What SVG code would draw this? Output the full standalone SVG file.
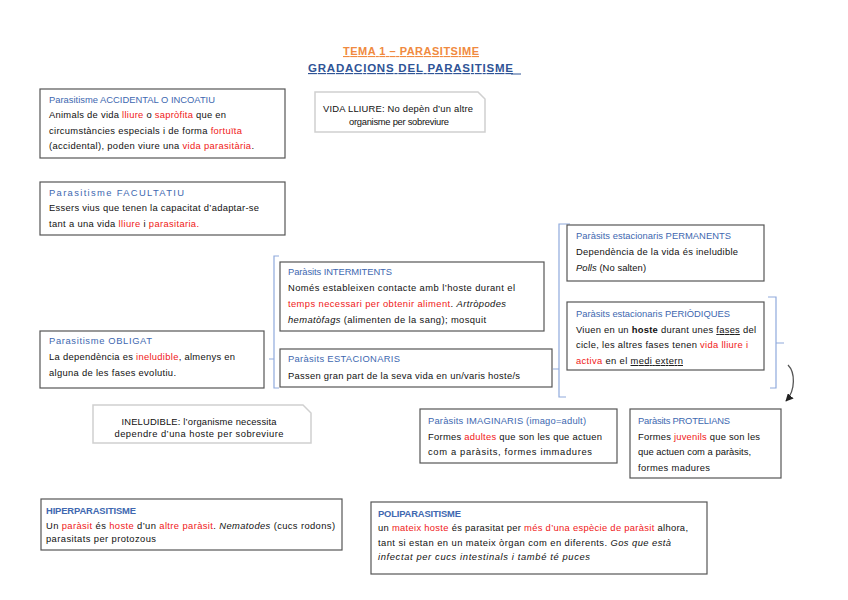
<svg xmlns="http://www.w3.org/2000/svg" width="848" height="600" viewBox="0 0 848 600">
<defs>
<style>
text{font-family:"Liberation Sans",Arial,sans-serif;font-size:9.4px;fill:#111}
.h{fill:#4068B0}
.r{fill:#F01818}
.i{font-style:italic}
.u{text-decoration:underline}
.b{font-weight:bold}
.box{fill:#fff;stroke:#555;stroke-width:1.2}
.lbox{fill:#fff;stroke:#d0d0d0;stroke-width:1.5}
.br{fill:none;stroke:#8FAADC;stroke-width:1.2}
.c{text-anchor:middle}
</style>
<marker id="ah" viewBox="0 0 10 10" refX="9" refY="5" markerWidth="6" markerHeight="6" orient="auto"><path d="M0,0L10,5L0,10z" fill="#222"/></marker>
</defs>
<rect width="848" height="600" fill="#fff"/>
<g id="title">
<text x="343" y="55" textLength="136" lengthAdjust="spacing" style="font-size:11px;font-weight:bold;fill:#F08A40;text-decoration:underline">TEMA 1 – PARASITSIME</text>
<text x="308" y="72" textLength="205" lengthAdjust="spacing" style="font-size:11.5px;font-weight:bold;fill:#2F5496;text-decoration:underline">GRADACIONS DEL PARASITISME</text>
<line x1="511" y1="74" x2="521" y2="74" stroke="#2F5496" stroke-width="1"/>
</g>
<g id="connectors">
<path class="br" d="M279,256H274V388H279M274,359H269"/>
<path class="br" d="M570,224H559V397H566M559,369H553"/>
<path class="br" d="M768,297H776V388H770M776,343H784"/>
<path d="M788,365C795,372 796,390 786,401" fill="none" stroke="#555" stroke-width="1.3" marker-end="url(#ah)"/>
</g>
<g id="accidental">
<rect class="box" x="40" y="89" width="245" height="69"/>
<text x="49" y="103" class="h" textLength="166" lengthAdjust="spacing">Parasitisme ACCIDENTAL O INCOATIU</text>
<text x="49" y="118" textLength="177" lengthAdjust="spacing">Animals de vida <tspan class="r">lliure</tspan> o <tspan class="r">sapròfita</tspan> que en</text>
<text x="49" y="134" textLength="193" lengthAdjust="spacing">circumstàncies especials i de forma <tspan class="r">fortuïta</tspan></text>
<text x="49" y="149" textLength="205" lengthAdjust="spacing">(accidental), poden viure una <tspan class="r">vida parasitària</tspan>.</text>
</g>
<g id="vidalliure">
<path class="lbox" d="M315,92H478L485,99V132H315Z"/>
<text x="398" y="112" class="c" textLength="150" lengthAdjust="spacing">VIDA LLIURE: No depèn d’un altre</text>
<text x="399" y="125" class="c" textLength="100" lengthAdjust="spacing">organisme per sobreviure</text>
</g>
<g id="facultatiu">
<rect class="box" x="40" y="182" width="245" height="53"/>
<text x="49" y="196" class="h" textLength="135" lengthAdjust="spacing">Parasitisme FACULTATIU</text>
<text x="49" y="211" textLength="210" lengthAdjust="spacing">Essers vius que tenen la capacitat d’adaptar-se</text>
<text x="49" y="227" textLength="150" lengthAdjust="spacing">tant a una vida <tspan class="r">lliure</tspan> i <tspan class="r">parasitaria.</tspan></text>
</g>
<g id="intermitents">
<rect class="box" x="280" y="262" width="264" height="69"/>
<text x="288" y="275" class="h" textLength="104" lengthAdjust="spacing">Paràsits INTERMITENTS</text>
<text x="288" y="291" textLength="227" lengthAdjust="spacing">Només estableixen contacte amb l’hoste durant el</text>
<text x="288" y="307" textLength="218" lengthAdjust="spacing"><tspan class="r">temps necessari per obtenir aliment</tspan>. <tspan class="i">Artròpodes</tspan></text>
<text x="288" y="323" textLength="198" lengthAdjust="spacing"><tspan class="i">hematòfags</tspan> (alimenten de la sang); mosquit</text>
</g>
<g id="estacionaris">
<rect class="box" x="280" y="349" width="272" height="38"/>
<text x="288" y="362" class="h" textLength="112" lengthAdjust="spacing">Paràsits ESTACIONARIS</text>
<text x="288" y="379" textLength="232" lengthAdjust="spacing">Passen gran part de la seva vida en un/varis hoste/s</text>
</g>
<g id="obligat">
<rect class="box" x="40" y="331" width="224" height="57"/>
<text x="49" y="344" class="h" textLength="103" lengthAdjust="spacing">Parasitisme OBLIGAT</text>
<text x="49" y="360" textLength="186" lengthAdjust="spacing">La dependència es <tspan class="r">ineludible</tspan>, almenys en</text>
<text x="49" y="376" textLength="127" lengthAdjust="spacing">alguna de les fases evolutiu.</text>
</g>
<g id="permanents">
<rect class="box" x="567" y="225" width="197" height="56"/>
<text x="576" y="239" class="h" textLength="155" lengthAdjust="spacing">Paràsits estacionaris PERMANENTS</text>
<text x="576" y="255" textLength="162" lengthAdjust="spacing">Dependència de la vida és ineludible</text>
<text x="576" y="271" textLength="70" lengthAdjust="spacing"><tspan class="i">Polls</tspan> (No salten)</text>
</g>
<g id="periodiques">
<rect class="box" x="567" y="302" width="197" height="68"/>
<text x="576" y="317" class="h" textLength="154" lengthAdjust="spacing">Paràsits estacionaris PERIÒDIQUES</text>
<text x="576" y="333" textLength="180" lengthAdjust="spacing">Viuen en un <tspan class="b">hoste</tspan> durant unes <tspan class="u">fases</tspan> del</text>
<text x="576" y="348" textLength="172" lengthAdjust="spacing">cicle, les altres fases tenen <tspan class="r">vida lliure i</tspan></text>
<text x="576" y="364" textLength="107" lengthAdjust="spacing"><tspan class="r">activa</tspan> en el <tspan class="u">medi extern</tspan></text>
</g>
<g id="ineludible">
<path class="lbox" d="M93,405H303L311,413V443H93Z"/>
<text x="199" y="425" class="c" textLength="155" lengthAdjust="spacing">INELUDIBLE: l’organisme necessita</text>
<text x="199" y="437" class="c" textLength="169" lengthAdjust="spacing">dependre d’una hoste per sobreviure</text>
</g>
<g id="imaginaris">
<rect class="box" x="420" y="409" width="197" height="54"/>
<text x="428" y="424" class="h" textLength="158" lengthAdjust="spacing">Paràsits IMAGINARIS (imago=adult)</text>
<text x="428" y="440" textLength="174" lengthAdjust="spacing">Formes <tspan class="r">adultes</tspan> que son les que actuen</text>
<text x="428" y="455" textLength="164" lengthAdjust="spacing">com a paràsits, formes immadures</text>
</g>
<g id="protelians">
<rect class="box" x="630" y="409" width="151" height="69"/>
<text x="638" y="424" class="h" textLength="92" lengthAdjust="spacing">Paràsits PROTELIANS</text>
<text x="638" y="440" textLength="122" lengthAdjust="spacing">Formes <tspan class="r">juvenils</tspan> que son les</text>
<text x="638" y="455" textLength="113" lengthAdjust="spacing">que actuen com a paràsits,</text>
<text x="638" y="471" textLength="72" lengthAdjust="spacing">formes madures</text>
</g>
<g id="hiperparasitisme">
<rect class="box" x="41" y="499" width="301" height="51"/>
<text x="46" y="514" class="h b" textLength="90" lengthAdjust="spacing">HIPERPARASITISME</text>
<text x="46" y="529" textLength="289" lengthAdjust="spacing">Un <tspan class="r">paràsit</tspan> és <tspan class="r">hoste</tspan> d’un <tspan class="r">altre paràsit</tspan>. <tspan class="i">Nematodes</tspan> (cucs rodons)</text>
<text x="46" y="542" textLength="110" lengthAdjust="spacing">parasitats per protozous</text>
</g>
<g id="poliparasitisme">
<rect class="box" x="371" y="502" width="336" height="72"/>
<text x="378" y="517" class="h b" textLength="83" lengthAdjust="spacing">POLIPARASITISME</text>
<text x="378" y="531" textLength="310" lengthAdjust="spacing">un <tspan class="r">mateix hoste</tspan> és parasitat per <tspan class="r">més d’una espècie de paràsit</tspan> alhora,</text>
<text x="378" y="546" textLength="293" lengthAdjust="spacing">tant si estan en un mateix òrgan com en diferents. <tspan class="i">Gos que està</tspan></text>
<text x="378" y="560" class="i" textLength="212" lengthAdjust="spacing">infectat per cucs intestinals  i també té puces</text>
</g>
</svg>
